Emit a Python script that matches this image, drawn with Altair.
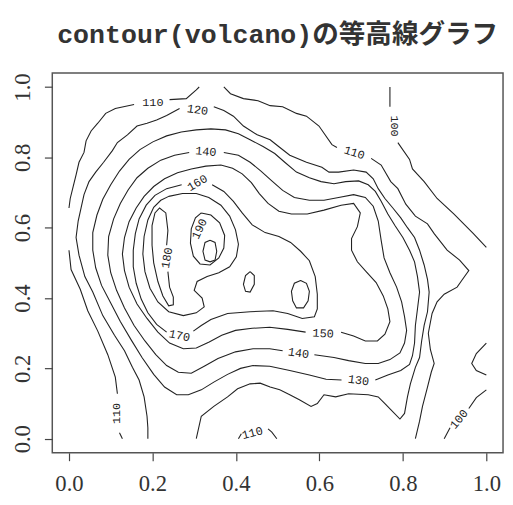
import altair as alt
import pandas as pd

# ---- contour line pieces (x, y in data units) ----
c100_a1 = [(0.769, 1.0), (0.769, 0.944)]
c100_a2 = [(0.788, 0.842), (0.816, 0.794), (0.823, 0.767), (0.851, 0.731), (0.882, 0.683),
           (0.922, 0.639), (0.969, 0.583), (1.0, 0.544)]
c100_b = [(1.0, 0.272), (0.976, 0.242), (0.965, 0.214), (0.976, 0.194), (1.0, 0.181)]
c100_c1 = [(1.0, 0.139), (0.976, 0.117), (0.958, 0.086)]
c100_c2 = [(0.913, 0.031), (0.899, 0.0)]

c110_a1 = [(0.312, 1.0), (0.305, 0.992), (0.281, 0.967), (0.241, 0.964)]
c110_a2 = [(0.156, 0.95), (0.111, 0.939), (0.088, 0.925), (0.069, 0.897), (0.053, 0.875),
           (0.041, 0.847), (0.036, 0.814), (0.024, 0.786), (0.017, 0.75), (0.01, 0.717),
           (0.003, 0.683), (0.0, 0.656)]
c110_b1 = [(0.0, 0.536), (0.005, 0.481), (0.027, 0.425), (0.045, 0.364), (0.069, 0.306),
           (0.093, 0.239), (0.111, 0.175), (0.116, 0.128)]
c110_b2 = [(0.121, 0.017), (0.128, 0.0)]
c110_c1 = [(0.371, 1.0), (0.387, 0.981), (0.418, 0.967), (0.453, 0.961), (0.482, 0.947),
           (0.512, 0.944), (0.545, 0.925), (0.569, 0.917), (0.599, 0.889), (0.63, 0.836),
           (0.642, 0.828)]
c110_c2 = [(0.724, 0.797), (0.748, 0.778), (0.771, 0.731), (0.788, 0.711), (0.807, 0.667),
           (0.83, 0.633), (0.859, 0.611), (0.875, 0.583), (0.906, 0.536), (0.936, 0.508),
           (0.958, 0.478), (0.941, 0.45), (0.93, 0.431), (0.899, 0.411), (0.882, 0.389),
           (0.87, 0.356), (0.861, 0.3), (0.866, 0.253), (0.875, 0.214), (0.868, 0.189),
           (0.859, 0.147), (0.847, 0.092), (0.84, 0.05), (0.83, 0.0)]
c110_d1 = [(0.406, 0.0), (0.413, 0.014)]
c110_d2 = [(0.477, 0.028), (0.486, 0.019), (0.498, 0.0)]

c120_a = [(0.189, 0.0), (0.189, 0.031), (0.187, 0.064), (0.18, 0.119), (0.168, 0.167),
          (0.152, 0.203), (0.133, 0.25), (0.109, 0.294), (0.081, 0.35), (0.057, 0.417),
          (0.038, 0.461), (0.024, 0.522), (0.017, 0.572), (0.022, 0.619), (0.029, 0.656),
          (0.036, 0.694), (0.048, 0.731), (0.064, 0.758), (0.083, 0.786), (0.104, 0.819),
          (0.116, 0.842), (0.14, 0.864), (0.163, 0.889), (0.187, 0.897), (0.21, 0.906),
          (0.234, 0.919), (0.265, 0.939)]
c120_b = [(0.347, 0.944), (0.371, 0.933), (0.394, 0.917), (0.418, 0.889), (0.451, 0.864),
          (0.482, 0.85), (0.5, 0.833), (0.529, 0.806), (0.569, 0.786), (0.606, 0.772),
          (0.623, 0.758), (0.646, 0.758), (0.682, 0.764), (0.712, 0.758), (0.729, 0.739),
          (0.741, 0.711), (0.757, 0.683), (0.776, 0.656), (0.795, 0.628), (0.811, 0.6),
          (0.828, 0.572), (0.84, 0.536), (0.851, 0.494), (0.859, 0.453), (0.863, 0.417),
          (0.859, 0.361), (0.851, 0.322), (0.845, 0.278), (0.84, 0.231), (0.83, 0.203),
          (0.818, 0.156), (0.811, 0.119), (0.804, 0.072), (0.793, 0.056), (0.771, 0.083),
          (0.757, 0.1), (0.741, 0.119), (0.717, 0.125), (0.67, 0.128), (0.639, 0.119),
          (0.611, 0.125), (0.595, 0.1), (0.58, 0.092), (0.552, 0.111), (0.529, 0.125),
          (0.505, 0.139), (0.482, 0.147), (0.458, 0.158), (0.434, 0.156), (0.404, 0.142),
          (0.38, 0.119), (0.347, 0.092), (0.317, 0.064), (0.305, 0.0)]

c130 = [(0.734, 0.167), (0.764, 0.181), (0.795, 0.194), (0.816, 0.211), (0.823, 0.236),
        (0.828, 0.272), (0.83, 0.322), (0.835, 0.369), (0.84, 0.417), (0.835, 0.461),
        (0.828, 0.503), (0.816, 0.536), (0.8, 0.572), (0.781, 0.606), (0.764, 0.639),
        (0.748, 0.675), (0.734, 0.703), (0.717, 0.722), (0.694, 0.733), (0.663, 0.731),
        (0.635, 0.725), (0.604, 0.731), (0.576, 0.742), (0.545, 0.758), (0.517, 0.786),
        (0.493, 0.811), (0.465, 0.831), (0.434, 0.85), (0.406, 0.867), (0.375, 0.878),
        (0.34, 0.881), (0.305, 0.878), (0.269, 0.872), (0.234, 0.861), (0.201, 0.844),
        (0.17, 0.822), (0.144, 0.794), (0.121, 0.761), (0.1, 0.722), (0.081, 0.681),
        (0.067, 0.636), (0.057, 0.586), (0.057, 0.536), (0.064, 0.486), (0.078, 0.436),
        (0.1, 0.386), (0.123, 0.333), (0.149, 0.281), (0.175, 0.231), (0.203, 0.183),
        (0.229, 0.147), (0.258, 0.125), (0.286, 0.125), (0.317, 0.139), (0.347, 0.161),
        (0.38, 0.183), (0.411, 0.2), (0.441, 0.208), (0.481, 0.206), (0.529, 0.194),
        (0.576, 0.181), (0.616, 0.169), (0.653, 0.167)]

c140_a = [(0.588, 0.239), (0.635, 0.231), (0.67, 0.222), (0.71, 0.214), (0.741, 0.214),
          (0.769, 0.225), (0.793, 0.244), (0.804, 0.272), (0.809, 0.308), (0.804, 0.347),
          (0.797, 0.389), (0.785, 0.431), (0.769, 0.472), (0.755, 0.514), (0.748, 0.564),
          (0.741, 0.619), (0.729, 0.661), (0.71, 0.686), (0.682, 0.694), (0.646, 0.686),
          (0.611, 0.678), (0.576, 0.678), (0.54, 0.686), (0.512, 0.706), (0.486, 0.733),
          (0.46, 0.761), (0.434, 0.786), (0.406, 0.806), (0.371, 0.814)]
c140_b = [(0.288, 0.814), (0.253, 0.806), (0.22, 0.792), (0.189, 0.769), (0.163, 0.742),
          (0.142, 0.708), (0.123, 0.669), (0.107, 0.625), (0.095, 0.575), (0.093, 0.522),
          (0.1, 0.472), (0.114, 0.422), (0.133, 0.372), (0.156, 0.322), (0.182, 0.278),
          (0.208, 0.239), (0.234, 0.208), (0.262, 0.189), (0.293, 0.186), (0.324, 0.206),
          (0.357, 0.228), (0.399, 0.247), (0.441, 0.256), (0.481, 0.256), (0.512, 0.25)]

c150 = [(0.652, 0.303), (0.682, 0.292), (0.71, 0.278), (0.739, 0.278), (0.757, 0.297),
        (0.769, 0.333), (0.764, 0.369), (0.753, 0.406), (0.736, 0.444), (0.712, 0.475),
        (0.691, 0.503), (0.677, 0.536), (0.677, 0.569), (0.691, 0.603), (0.698, 0.642),
        (0.682, 0.669), (0.652, 0.664), (0.611, 0.65), (0.571, 0.639), (0.533, 0.639),
        (0.503, 0.647), (0.477, 0.669), (0.456, 0.697), (0.437, 0.728), (0.415, 0.753),
        (0.392, 0.769), (0.364, 0.778), (0.328, 0.775), (0.293, 0.767), (0.26, 0.756),
        (0.229, 0.739), (0.203, 0.717), (0.18, 0.689), (0.161, 0.656), (0.144, 0.617),
        (0.133, 0.572), (0.128, 0.525), (0.133, 0.478), (0.144, 0.431), (0.163, 0.383),
        (0.187, 0.342), (0.213, 0.303), (0.241, 0.272), (0.274, 0.256), (0.305, 0.258),
        (0.336, 0.275), (0.366, 0.294), (0.399, 0.308), (0.439, 0.314), (0.481, 0.317),
        (0.524, 0.311), (0.567, 0.303)]

c160_a = [(0.343, 0.722), (0.371, 0.703), (0.394, 0.675), (0.415, 0.642), (0.439, 0.608),
          (0.47, 0.586), (0.503, 0.575), (0.531, 0.558), (0.555, 0.533), (0.576, 0.506),
          (0.59, 0.461), (0.595, 0.411), (0.595, 0.369), (0.588, 0.347), (0.559, 0.342),
          (0.524, 0.356), (0.489, 0.364), (0.434, 0.361), (0.38, 0.356), (0.34, 0.339),
          (0.317, 0.322), (0.298, 0.306)]
c160_b = [(0.234, 0.303), (0.21, 0.325), (0.189, 0.358), (0.173, 0.397), (0.161, 0.442),
          (0.154, 0.489), (0.154, 0.536), (0.159, 0.583), (0.168, 0.625), (0.185, 0.664),
          (0.206, 0.692), (0.234, 0.711), (0.27, 0.722)]

c170_main = [(0.239, 0.689), (0.272, 0.697), (0.305, 0.697), (0.335, 0.686), (0.364, 0.664),
             (0.385, 0.633), (0.399, 0.594), (0.406, 0.553), (0.401, 0.517), (0.385, 0.489),
             (0.359, 0.472), (0.331, 0.461), (0.307, 0.447), (0.3, 0.422), (0.319, 0.4),
             (0.324, 0.375), (0.305, 0.358), (0.274, 0.35), (0.239, 0.361), (0.213, 0.389),
             (0.194, 0.428), (0.182, 0.475), (0.177, 0.525), (0.18, 0.575), (0.189, 0.622),
             (0.203, 0.658), (0.22, 0.678), (0.239, 0.689)]
c170_oval = [(0.555, 0.45), (0.569, 0.442), (0.576, 0.419), (0.573, 0.392), (0.562, 0.372),
             (0.545, 0.372), (0.536, 0.392), (0.533, 0.419), (0.54, 0.442), (0.555, 0.45)]
c170_thin = [(0.434, 0.475), (0.444, 0.464), (0.444, 0.439), (0.434, 0.417), (0.423, 0.419),
             (0.418, 0.439), (0.423, 0.464), (0.434, 0.475)]

c180_peak = [(0.317, 0.642), (0.34, 0.636), (0.361, 0.614), (0.373, 0.578), (0.371, 0.542),
             (0.359, 0.514), (0.338, 0.494), (0.314, 0.497), (0.298, 0.519), (0.291, 0.556),
             (0.293, 0.597), (0.303, 0.628), (0.317, 0.642)]
c180_ridge = [(0.237, 0.475), (0.241, 0.431), (0.25, 0.403), (0.25, 0.381), (0.239, 0.378),
              (0.225, 0.406), (0.213, 0.447), (0.203, 0.5), (0.199, 0.55), (0.199, 0.606),
              (0.206, 0.642), (0.217, 0.656), (0.232, 0.642), (0.237, 0.592), (0.234, 0.55)]

c190 = [(0.338, 0.564), (0.35, 0.558), (0.354, 0.533), (0.35, 0.508), (0.338, 0.503),
        (0.326, 0.508), (0.321, 0.533), (0.326, 0.558), (0.338, 0.564)]

# ---- contour labels ----
label_text = ["100", "100", "110", "110", "110", "110", "120", "130", "140", "140",
              "150", "160", "170", "180", "190"]
label_x = [0.781, 0.934, 0.201, 0.114, 0.684, 0.439, 0.308, 0.694, 0.55, 0.328,
           0.609, 0.307, 0.265, 0.234, 0.312]
label_y = [0.889, 0.056, 0.958, 0.072, 0.814, 0.017, 0.936, 0.167, 0.244, 0.817,
           0.3, 0.728, 0.294, 0.514, 0.597]
label_angle = [90, 310, 0, 270, 18, 345, 8, 8, 8, 5,
               3, 330, 12, 280, 295]

tick_values = [0.0, 0.2, 0.4, 0.6, 0.8, 1.0]

pieces = {
    "c100_a1": c100_a1, "c100_a2": c100_a2, "c100_b": c100_b, "c100_c1": c100_c1,
    "c100_c2": c100_c2, "c110_a1": c110_a1, "c110_a2": c110_a2, "c110_b1": c110_b1,
    "c110_b2": c110_b2, "c110_c1": c110_c1, "c110_c2": c110_c2, "c110_d1": c110_d1,
    "c110_d2": c110_d2, "c120_a": c120_a, "c120_b": c120_b, "c130": c130,
    "c140_a": c140_a, "c140_b": c140_b, "c150": c150, "c160_a": c160_a, "c160_b": c160_b,
    "c170_main": c170_main, "c170_oval": c170_oval, "c170_thin": c170_thin,
    "c180_peak": c180_peak, "c180_ridge": c180_ridge, "c190": c190,
}

rows = []
for name, pts in pieces.items():
    for i, (x, y) in enumerate(pts):
        rows.append({"piece": name, "order": i, "x": x, "y": y})
lines_df = pd.DataFrame(rows)

labels_df = pd.DataFrame({"text": label_text, "x": label_x, "y": label_y, "angle": label_angle})

mono = "Liberation Mono, DejaVu Sans Mono, monospace"
serif = "Liberation Serif, DejaVu Serif, serif"

xscale = alt.Scale(domain=[-0.04, 1.04], nice=False, zero=False)
yscale = alt.Scale(domain=[-0.04, 1.04], nice=False, zero=False)

xaxis = alt.Axis(values=tick_values, format=".1f", title=None, grid=False, domain=False,
                 tickSize=8, tickColor="#444", tickWidth=1.2, labelPadding=12,
                 labelFont=serif, labelFontSize=23, labelColor="#333")
yaxis = alt.Axis(values=tick_values, format=".1f", title=None, grid=False, domain=False,
                 tickSize=8, tickColor="#444", tickWidth=1.2, labelPadding=10,
                 labelAngle=270, labelAlign="center", labelBaseline="bottom",
                 labelFont=serif, labelFontSize=23, labelColor="#333")

lines = alt.Chart(lines_df).mark_line(color="#222", strokeWidth=1.1).encode(
    x=alt.X("x:Q", scale=xscale, axis=xaxis),
    y=alt.Y("y:Q", scale=yscale, axis=yaxis),
    detail="piece:N",
    order="order:Q",
)

texts = alt.Chart(labels_df).mark_text(font=mono, fontSize=12, color="#222").encode(
    x=alt.X("x:Q", scale=xscale),
    y=alt.Y("y:Q", scale=yscale),
    text="text:N",
    angle=alt.Angle("angle:Q", scale=None),
)

chart = alt.layer(lines, texts).properties(
    width=458,
    height=386,
    title=alt.TitleParams(
        "contour(volcano)の等高線グラフ",
        font="Liberation Mono, Noto Sans Mono CJK JP, Noto Sans CJK JP",
        fontSize=27, fontWeight="bold", color="#333", anchor="middle", offset=24,
    ),
    autosize=alt.AutoSizeParams(type="none"),
    padding={"left": 45, "top": 62, "right": 2, "bottom": 45},
).configure_view(stroke="#555", strokeWidth=1.5)

chart.save("out.html", embed_options={"renderer": "svg", "actions": False})
